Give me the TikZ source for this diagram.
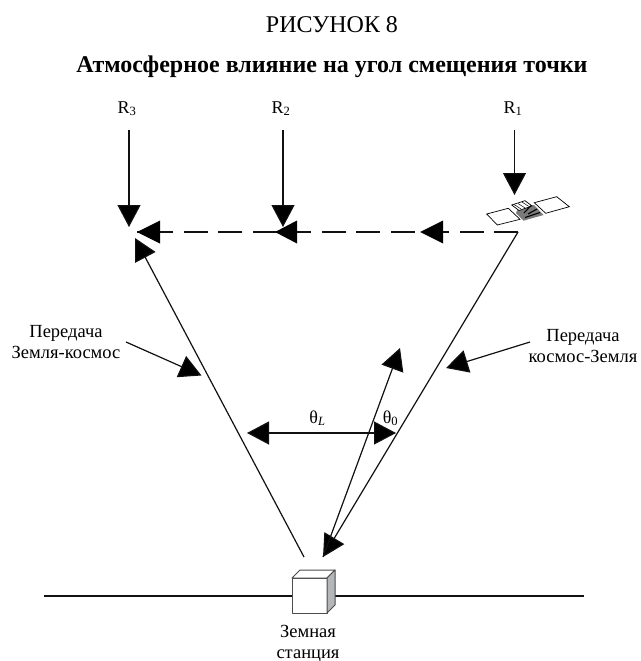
\documentclass[tikz,border=0pt]{standalone}
\usepackage{fontspec}
\setmainfont{Liberation Serif}
\usepackage{xcolor}
\usetikzlibrary{arrows.meta}
\definecolor{ink}{HTML}{111111}
\definecolor{sideGray}{HTML}{B4B6B8}
\definecolor{busGray}{HTML}{7A7A7A}
\tikzset{
  rayLine/.style={draw=ink, line width=1.2pt},
  rayTip/.style={rayLine, -{Triangle[length=22pt,width=23pt,fill=black]}},
  bothTip/.style={rayLine, {Triangle[length=22pt,width=23pt,fill=black]}-{Triangle[length=22pt,width=23pt,fill=black]}},
  dashLine/.style={rayLine, dash pattern=on 24pt off 10.5pt},
  panelShape/.style={draw=black, line width=0.7pt, fill=white},
  boxFace/.style={draw=black!70, line width=1pt, line join=round},
  smallLabel/.style={font=\fontsize{18.5}{21}\selectfont, align=center, inner sep=0pt},
  rayLabel/.style={font=\fontsize{18}{20}\selectfont, inner sep=0pt, anchor=base}
}

\begin{document}
\begin{tikzpicture}[x=1pt,y=-1pt]
  \useasboundingbox (0,0) rectangle (640,661);

  % titles
  \node[font=\fontsize{24}{28}\selectfont, inner sep=0pt, anchor=base] (fig) at (332,33) {РИСУНОК 8};
  \node[font=\fontsize{24}{28}\bfseries\selectfont, inner sep=0pt, anchor=base] (title) at (332,72) {Атмосферное влияние на угол смещения точки};

  % beam labels and rays from above
  \node[rayLabel] (r3) at (127,113) {R\textsubscript{3}};
  \node[rayLabel] (r2) at (281,113) {R\textsubscript{2}};
  \node[rayLabel] (r1) at (513,113) {R\textsubscript{1}};
  \coordinate (r3top) at (129,130);
  \coordinate (r2top) at (283,130);
  \coordinate (r1top) at (514.5,130);
  \coordinate (r3end) at (129,227);
  \coordinate (r2end) at (283,227);
  \coordinate (r1end) at (514.5,195);
  \draw[rayTip] (r3top) -- (r3end);
  \draw[rayTip] (r2top) -- (r2end);
  \draw[rayTip] (r1top) -- (r1end);

  % dashed offset line with its arrows
  \coordinate (sat) at (518,232);
  \coordinate (mid1) at (420,232);
  \coordinate (mid2) at (275,232);
  \coordinate (far) at (137,232);
  \draw[dashLine] (sat) -- (far);
  \fill (mid1) -- ++(23,-11.5) -- ++(0,23) -- cycle;
  \fill (mid2) -- ++(22,-11.5) -- ++(0,23) -- cycle;
  \fill (far) -- ++(23,-11.5) -- ++(0,23) -- cycle;

  % triangle sides
  \coordinate (upFoot) at (304,557);
  \coordinate (upEnd) at (135,238);
  \coordinate (downEnd) at (323,557);
  \coordinate (axisEnd) at (400,348);
  \draw[rayTip] (upFoot) -- (upEnd);
  \draw[rayTip] (sat) -- (downEnd);
  \draw[rayTip] (downEnd) -- (axisEnd);

  % angles
  \coordinate (angL) at (247,433);
  \coordinate (angR) at (396,433);
  \draw[bothTip] (angL) -- (angR);
  \node[rayLabel] (thetaL) at (317.5,423) {θ\textsubscript{\itshape L}};
  \node[rayLabel] (theta0) at (390.5,423) {θ\textsubscript{0}};

  % side captions
  \node[smallLabel] (upText) at (66,342) {Передача\\Земля-космос};
  \node[smallLabel] (downText) at (583,346) {Передача\\космос-Земля};
  \coordinate (upFrom) at (126,342);
  \coordinate (upTo) at (201.5,375.5);
  \coordinate (downFrom) at (530,342);
  \coordinate (downTo) at (446,368);
  \draw[rayTip] (upFrom) -- (upTo);
  \draw[rayTip] (downFrom) -- (downTo);

  % ground and earth station
  \coordinate (groundL) at (44,596);
  \coordinate (groundR) at (584,596);
  \draw[rayLine] (groundL) -- (292,596);
  \draw[rayLine] (335,596) -- (groundR);
  \draw[boxFace, fill=white] (292,578) rectangle (327,613);
  \draw[boxFace, fill=white] (292,578) -- (300,570) -- (335,570) -- (327,578) -- cycle;
  \draw[boxFace, fill=sideGray] (327,578) -- (335,570) -- (335,605) -- (327,613) -- cycle;
  \node[smallLabel] (station) at (308,643.5) {Земная\\станция};

  % satellite
  \draw[panelShape] (486.7,214) -- (508.3,208.3) -- (520,219.3) -- (497.3,225) -- cycle;
  \draw[panelShape] (534.3,202.7) -- (556.7,196.7) -- (569.3,206.7) -- (545.7,213.3) -- cycle;
  \fill[busGray] (518,208) -- (534,205) -- (543.5,215) -- (523.5,220.7) -- (516,213) -- cycle;
  \draw[panelShape] (511.7,205) -- (525,200.7) -- (532,206) -- (519,210.5) -- cycle;
  \draw[line width=0.5pt] (514,204.5) -- (521,209) (518,203.5) -- (525,208) (522,202) -- (529,206.5);
  \draw[line width=1.1pt, black] (524,213) -- (531,205.5) (525,217.5) -- (540,212.5) (528,214) -- (537,209);
\end{tikzpicture}
\end{document}
